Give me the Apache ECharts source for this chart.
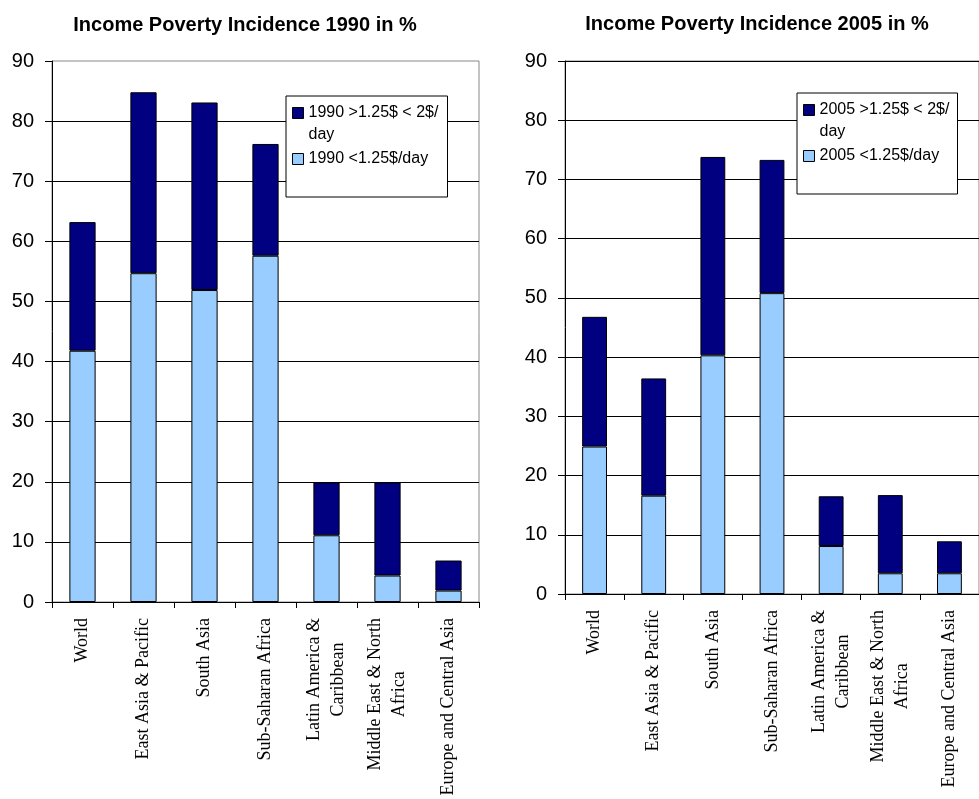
<!DOCTYPE html>
<html>
<head>
<meta charset="utf-8">
<script src="https://cdn.jsdelivr.net/npm/echarts@6/dist/echarts.min.js"></script>
<style>
  html, body { margin: 0; padding: 0; background: #fff; }
  #chart { width: 979px; height: 799px; }
</style>
</head>
<body>
<div id="chart"></div>
<script>
// categories (regions)
const regions = [
  'World',
  'East Asia & Pacific',
  'South Asia',
  'Sub-Saharan Africa',
  'Latin America &\nCaribbean',
  'Middle East & North\nAfrica',
  'Europe and Central Asia'
];

// 1990, % of population
const below125_1990 = [41.8, 54.7, 51.9, 57.6, 11.1, 4.4, 1.9];
const between125and2_1990 = [21.4, 30.1, 31.2, 18.6, 8.8, 15.5, 5.0];

// 2005, % of population
const below125_2005 = [24.9, 16.6, 40.3, 50.8, 8.1, 3.5, 3.5];
const between125and2_2005 = [21.9, 19.8, 33.5, 22.5, 8.4, 13.2, 5.4];

const yTicks = { min: 0, max: 90, interval: 10 };

const titles = ['Income Poverty Incidence 1990 in %', 'Income Poverty Incidence 2005 in %'];
const names1990 = ['1990 >1.25$ < 2$/day', '1990 <1.25$/day'];
const names2005 = ['2005 >1.25$ < 2$/day', '2005 <1.25$/day'];

const DARK = '#000080';
const LIGHT = '#99CCFF';
const SANS = 'Liberation Sans, Arial, sans-serif';
const SERIF = 'Liberation Serif, Times New Roman, serif';

// legend icons: square at top (first item, 2-line text) / square in middle
const iconTop = 'path://M0,0h11v11h-11zM11,33';
const iconMid = 'path://M0,0M0,11h11v11h-11zM11,33';

let myChart = echarts.init(document.getElementById('chart'));

let makeX = (gridIndex) => ({
  type: 'category',
  gridIndex: gridIndex,
  data: regions,
  axisLine: { lineStyle: { color: '#000', width: 1 } },
  axisTick: { show: true, length: 6, lineStyle: { color: '#000' } },
  axisLabel: {
    interval: 0,
    rotate: 90,
    margin: 16,
    color: '#000',
    formatter: (v) => v.split('\n').map((s) => '{c|' + s + '}').join('\n'),
    rich: {
      c: { fontFamily: SERIF, fontSize: 18, lineHeight: 24, color: '#000', align: 'center' }
    }
  },
  splitLine: { show: false }
});

let makeY = (gridIndex, showMax) => ({
  type: 'value',
  gridIndex: gridIndex,
  min: yTicks.min,
  max: yTicks.max,
  interval: yTicks.interval,
  axisLine: { show: true, lineStyle: { color: '#000', width: 1 } },
  axisTick: { show: true, length: 7, lineStyle: { color: '#000' } },
  axisLabel: { fontFamily: SANS, fontSize: 20, color: '#000', margin: 18 },
  splitLine: { show: true, showMaxLine: showMax, lineStyle: { color: '#000', width: 1 } }
});

let makeLegend = (names, left, top, textW) => ({
  orient: 'vertical',
  left: left,
  top: top,
  itemWidth: 11,
  itemHeight: 33,
  itemGap: -4,
  padding: [6, 3, 21, 6],
  backgroundColor: '#fff',
  borderColor: '#000',
  borderWidth: 1,
  borderRadius: 0,
  selectedMode: false,
  itemStyle: { borderColor: '#000', borderWidth: 1 },
  textStyle: { fontFamily: SANS, fontSize: 16, lineHeight: 22, color: '#000', width: textW },
  formatter: (name) => name.replace('2$/', '2$/\n'),
  data: [
    { name: names[0], icon: iconTop },
    { name: names[1], icon: iconMid }
  ]
});

let makeBar = (name, stack, idx, data, color, barWidth) => ({
  name: name,
  type: 'bar',
  stack: stack,
  xAxisIndex: idx,
  yAxisIndex: idx,
  data: data,
  barWidth: barWidth,
  itemStyle: { color: color, borderColor: '#000', borderWidth: 1 }
});

let option = {
  animation: false,
  backgroundColor: '#fff',
  title: [
    {
      text: titles[0], left: 240, top: 10, textAlign: 'center',
      textStyle: { fontFamily: SANS, fontSize: 20, fontWeight: 'bold', color: '#000' }
    },
    {
      text: titles[1], left: 752, top: 9, textAlign: 'center',
      textStyle: { fontFamily: SANS, fontSize: 20, fontWeight: 'bold', color: '#000' }
    }
  ],
  legend: [
    makeLegend(names1990, 286, 96, 136),
    makeLegend(names2005, 797, 93, 135)
  ],
  // 左右两个图表区域
  grid: [
    { left: 52, top: 61, width: 427, height: 541, show: true, borderColor: '#888', borderWidth: 1, backgroundColor: 'transparent' },
    { left: 565, top: 61, width: 420, height: 533, show: true, borderColor: '#888', borderWidth: 1, backgroundColor: 'transparent' }
  ],
  xAxis: [makeX(0), makeX(1)],
  yAxis: [makeY(0, false), makeY(1, true)],
  series: [
    makeBar(names1990[1], 'y1990', 0, below125_1990, LIGHT, '43%'),
    makeBar(names1990[0], 'y1990', 0, between125and2_1990, DARK, '43%'),
    makeBar(names2005[1], 'y2005', 1, below125_2005, LIGHT, '42%'),
    makeBar(names2005[0], 'y2005', 1, between125and2_2005, DARK, '42%')
  ]
};

myChart.setOption(option);
</script>
</body>
</html>
